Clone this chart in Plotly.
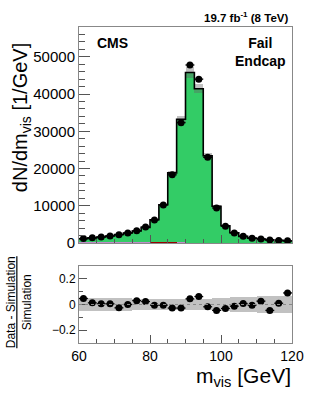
import numpy as np
import plotly.graph_objects as go

# ---- data ----
bin_lo, bin_hi, bin_w = 60.0, 120.0, 2.5
edges = np.arange(bin_lo, bin_hi + 0.001, bin_w)
centers = edges[:-1] + bin_w / 2

data_counts = [1200, 1400, 1600, 1900, 2200, 2700, 3300, 4300, 6200, 10200, 18300, 32300,
               47800, 44000, 23000, 9400, 4500, 2700, 1800, 1300, 1100, 800, 700, 600]
mc_total = [1150, 1380, 1590, 1890, 2260, 2700, 3200, 4200, 6230, 10250, 18830, 33230,
            45800, 41430, 23420, 9850, 4640, 2735, 1785, 1306, 1072, 838, 693, 550]
bkg_other = [150, 150, 150, 150, 150, 150, 150, 150, 150, 150, 150, 150,
             120, 120, 120, 120, 120, 120, 120, 120, 120, 120, 120, 120]
bkg_ttbar = [0, 0, 0, 0, 0, 0, 0, 0, 170, 170, 170, 0,
             0, 0, 0, 0, 0, 0, 0, 0, 0, 0, 0, 0]
ratio_vals = [0.047, 0.013, 0.005, 0.005, -0.026, 0.0, 0.030, 0.023, -0.005, -0.005, -0.028, -0.028,
              0.044, 0.062, -0.018, -0.046, -0.031, -0.013, 0.008, -0.005, 0.026, -0.046, 0.010, 0.090]
rel_unc = [0.050, 0.050, 0.050, 0.048, 0.048, 0.048, 0.046, 0.046, 0.045, 0.045, 0.045, 0.045,
           0.045, 0.045, 0.045, 0.048, 0.050, 0.055, 0.060, 0.062, 0.064, 0.066, 0.066, 0.066]

mc_total = np.array(mc_total, float)
bkg_other = np.array(bkg_other, float)
bkg_ttbar = np.array(bkg_ttbar, float)
zee = mc_total - bkg_other - bkg_ttbar
rel_unc = np.array(rel_unc)

FONT = "Liberation Sans, Arial, Helvetica, sans-serif"
GREEN = "rgb(51,204,102)"
BAND = "rgba(100,100,100,0.4)"

PL, PT, PW, PH = 79, 27, 221, 316   # plot area in page pixels


def px(x):
    return (x - PL) / PW


def py(y):
    return (PT + PH - y) / PH


fig = go.Figure()

fig.add_trace(go.Bar(x=centers, y=bkg_other, base=0, width=bin_w,
                     marker=dict(color="rgb(190,140,200)", line=dict(width=0)), xaxis="x", yaxis="y"))
fig.add_trace(go.Bar(x=centers, y=bkg_ttbar, base=bkg_other, width=bin_w,
                     marker=dict(color="rgb(153,0,0)", line=dict(width=0)), xaxis="x", yaxis="y"))
fig.add_trace(go.Bar(x=centers, y=zee, base=bkg_other + bkg_ttbar, width=bin_w,
                     marker=dict(color=GREEN, line=dict(width=0)), xaxis="x", yaxis="y"))

fig.add_trace(go.Scatter(x=edges, y=np.append(mc_total, mc_total[-1]), mode="lines", line_shape="hv",
                         line=dict(color="black", width=1.6), xaxis="x", yaxis="y"))

main_unc = 0.03
fig.add_trace(go.Bar(x=centers, y=2 * mc_total * main_unc, base=mc_total * (1 - main_unc), width=bin_w,
                     marker=dict(color=BAND, line=dict(width=0)), xaxis="x", yaxis="y"))

fig.add_trace(go.Scatter(x=centers, y=data_counts, mode="markers",
                         marker=dict(color="black", size=7),
                         error_x=dict(type="constant", value=bin_w / 2, color="black", thickness=1.3, width=0),
                         xaxis="x", yaxis="y"))

fig.add_trace(go.Bar(x=centers, y=2 * rel_unc, base=-rel_unc, width=bin_w,
                     marker=dict(color=BAND, line=dict(width=0)), xaxis="x2", yaxis="y2"))
fig.add_trace(go.Scatter(x=centers, y=ratio_vals, mode="markers",
                         marker=dict(color="black", size=7),
                         error_x=dict(type="constant", value=bin_w / 2, color="black", thickness=1.3, width=0),
                         xaxis="x2", yaxis="y2"))

axis_common = dict(showgrid=False, zeroline=False, showline=True, linecolor="#888", linewidth=1,
                   mirror=True, ticks="inside", tickcolor="#555")

fig.update_layout(
    width=316, height=400,
    margin=dict(l=PL, r=316 - PL - PW, t=PT, b=400 - PT - PH),
    paper_bgcolor="white", plot_bgcolor="white",
    showlegend=False, barmode="overlay", bargap=0, hovermode=False,
    font=dict(family=FONT, color="black"),
    xaxis=dict(**axis_common, domain=[0, 1], anchor="y", range=[bin_lo, bin_hi], showticklabels=False,
               dtick=20, ticklen=8, minor=dict(dtick=5, ticklen=4, ticks="inside", tickcolor="#555")),
    yaxis=dict(**axis_common, domain=[0.3165, 1], anchor="x", range=[0, 58000], dtick=10000, ticklen=11,
               tickformat="d", tickfont=dict(size=15),
               minor=dict(dtick=2000, ticklen=6, ticks="inside", tickcolor="#555")),
    xaxis2=dict(**axis_common, domain=[0, 1], anchor="y2", range=[bin_lo, bin_hi], dtick=20, ticklen=8,
                tickfont=dict(size=14), minor=dict(dtick=5, ticklen=4, ticks="inside", tickcolor="#555")),
    yaxis2=dict(**axis_common, domain=[0, 0.2437], anchor="x2", range=[-0.3, 0.3],
                tickvals=[-0.2, 0, 0.2], ticktext=["\u22120.2", "0", "0.2"], ticklen=8,
                tickfont=dict(size=12), minor=dict(dtick=0.1, ticklen=4, ticks="inside", tickcolor="#555")),
)

fig.add_shape(type="line", xref="x2 domain", yref="y2", x0=0, x1=1, y0=0, y1=0,
              line=dict(color="#888", width=1, dash="dot"))

fig.add_annotation(text="<b>19.7 fb<sup>-1</sup> (8 TeV)</b>", xref="paper", yref="paper",
                   x=px(298), y=py(26), xanchor="right", yanchor="bottom", showarrow=False, font=dict(size=11.5))
fig.add_annotation(text="<b>CMS</b>", xref="paper", yref="paper", x=px(96), y=py(43),
                   xanchor="left", yanchor="middle", showarrow=False, font=dict(size=14))
fig.add_annotation(text="<b>Fail</b><br><b>Endcap</b>", xref="paper", yref="paper", x=px(267),
                   y=py(52), xanchor="center", yanchor="middle", showarrow=False, align="center",
                   font=dict(size=14))
fig.add_annotation(text="dN/dm<sub>vis</sub> [1/GeV]", xref="paper", yref="paper", x=px(19),
                   y=py(118), xanchor="center", yanchor="middle", textangle=-90, showarrow=False,
                   font=dict(size=20))
fig.add_annotation(text="<u>Data - Simulation</u><br>Simulation", xref="paper", yref="paper",
                   x=px(17), y=py(302), xanchor="center", yanchor="middle", textangle=-90,
                   showarrow=False, align="center", font=dict(size=12))
fig.add_annotation(text="m<sub>vis</sub> [GeV]", xref="paper", yref="paper", x=px(301), y=py(392),
                   xanchor="right", yanchor="bottom", showarrow=False, font=dict(size=21))

fig.write_html("out.html", config={"displayModeBar": False},
               post_script="document.body.style.margin='0px';document.body.style.overflow='hidden';")
